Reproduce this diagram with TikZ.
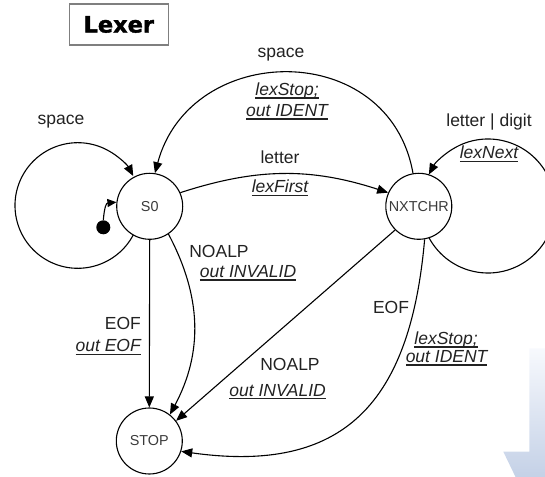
\documentclass[tikz,border=0pt]{standalone}
\usepackage{fontspec}
\setmainfont{Liberation Sans}
\newfontfamily\titlefont[BoldFeatures={FakeBold=1.6}]{DejaVu Sans}
\usetikzlibrary{arrows.meta}
\definecolor{ink}{HTML}{222222}
\definecolor{nodeink}{HTML}{3A3A3A}
\definecolor{framegray}{HTML}{7F7F7F}
\definecolor{arrowtop}{HTML}{F7F9FD}
\definecolor{arrowbot}{HTML}{C3D0E6}
% italic action text with a close underline
\newcommand\actiontext[1]{\setbox0\hbox{\itshape #1}\leavevmode\rlap{\rule[-3pt]{\wd0}{1.1pt}}\box0}
\begin{document}
\begin{tikzpicture}[x=1pt,y=1pt,
  state/.style={circle, draw, line width=1.1pt, minimum size=66pt, inner sep=0pt,
    font=\fontsize{14.4}{16}\selectfont, text=nodeink},
  edge/.style={draw, line width=1.1pt, -{Triangle[length=11pt,width=9pt]}},
  lbl/.style={font=\fontsize{17.5}{21}\selectfont, text=ink, inner sep=0pt},
  titlebox/.style={draw=framegray, line width=1.5pt, minimum width=99pt, minimum height=41pt,
    inner sep=0pt, font=\titlefont\bfseries\fontsize{22.5}{26}\selectfont}]
\useasboundingbox (0,0) rectangle (545,476);
\clip (0,0) rectangle (545,476);

% background arrow
\shade[top color=arrowtop, bottom color=arrowbot]
  (529.3,127.7) -- (560,127.7) -- (560,-4) -- (517,-4) -- (503.3,24.3) -- (529.3,24.3) -- cycle;

% title
\node[titlebox] (title) at (118.8,451.5) {Lexer};

% states
\node[state] (s0) at (149.7,269.7) {S0};
\node[state] (nx) at (418.8,269.7) {NXTCHR};
\node[state] (stop) at (149.3,35) {STOP};

% initial marker
\node[circle, fill=black, minimum size=14pt, inner sep=0pt] (init) at (103.3,248.7) {};
\draw[line width=1.1pt, -{Triangle[length=9pt,width=8pt]}]
  (init.north) .. controls +(85:14) and +(185:10) .. (s0.173);

% self loops
\coordinate (loopL) at (77.8,270.5);
\coordinate (loopR) at (488,270);
\draw[edge] (loopL) ++(-28:62.8) arc[start angle=-28, end angle=-332, radius=62.8];
\draw[edge] (loopR) ++(-152:67) arc[start angle=-152, end angle=152, radius=67];

% transitions
\draw[edge] (s0.24) to[bend left=18] (nx.156);
\draw[edge] (nx.100) .. controls +(100:137) and +(75:137) .. (s0.81);
\draw[edge] (s0.south) -- (stop.north);
\draw[edge] (s0.-56) to[out=-62, in=62] (stop.52);
\draw[edge] (nx.-135) -- (stop.37);
\draw[edge] (nx.-80) to[out=-95, in=-8, looseness=1.3] (stop.-18);

% labels
\node[lbl] (l1) at (281,421) {space};
\node[lbl] (l2) at (287,385) {\actiontext{lexStop;}};
\node[lbl] (l3) at (287,364) {\actiontext{out IDENT}};
\node[lbl] (l4) at (61,354) {space};
\node[lbl] (l5) at (489,354) {letter | digit};
\node[lbl] (l6) at (489,322) {\actiontext{lexNext}};
\node[lbl] (l7) at (280,319) {letter};
\node[lbl] (l8) at (280,288) {\actiontext{lexFirst}};
\node[lbl] (l9) at (219,225) {NOALP};
\node[lbl] (l10) at (248,203) {\actiontext{out INVALID}};
\node[lbl, anchor=east] (l11) at (141,153) {EOF};
\node[lbl, anchor=east] (l12) at (141,129) {\actiontext{out EOF}};
\node[lbl] (l13) at (391,169) {EOF};
\node[lbl] (l14) at (446,136) {\actiontext{lexStop;}};
\node[lbl] (l15) at (446.6,118) {\actiontext{out IDENT}};
\node[lbl] (l16) at (290,111.5) {NOALP};
\node[lbl] (l17) at (277.6,84.3) {\actiontext{out INVALID}};
\end{tikzpicture}
\end{document}
